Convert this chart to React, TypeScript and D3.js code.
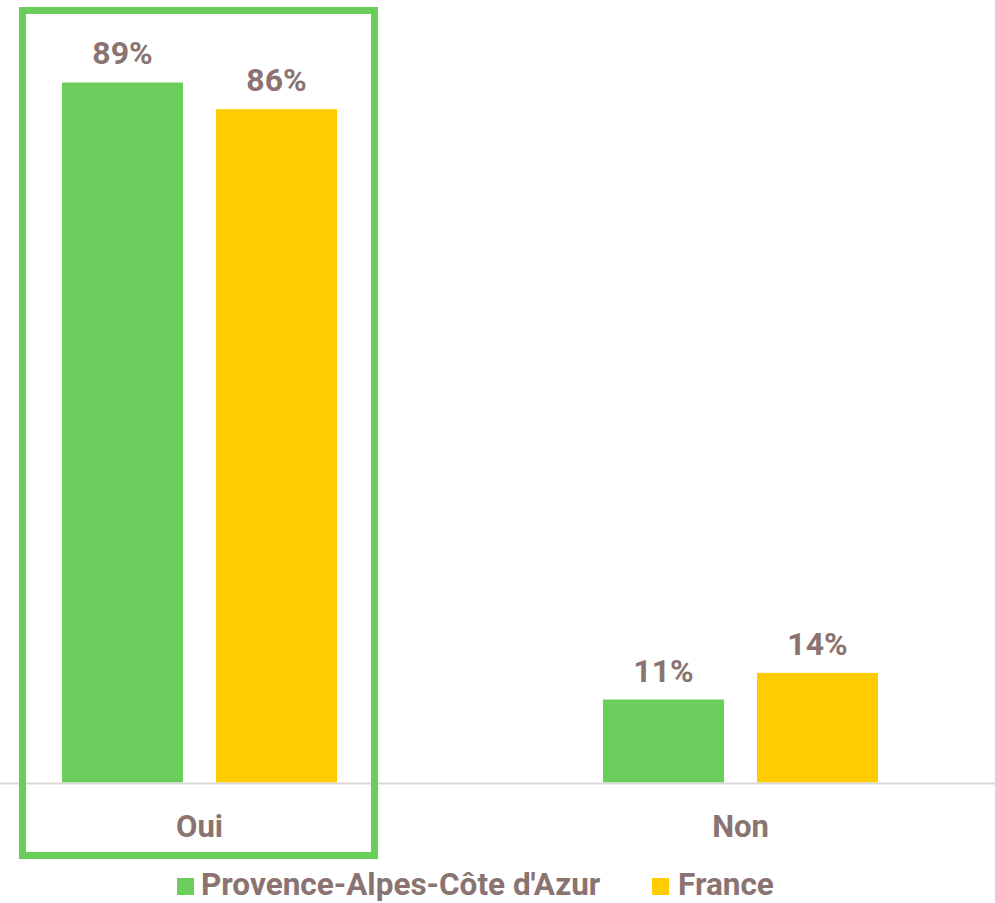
import React from "react";
import * as d3 from "d3";

const categories = ["Oui", "Non"];
const seriesNames = ["Provence-Alpes-Côte d'Azur", "France"];
const pacaValues = [0.894, 0.106];
const franceValues = [0.86, 0.14];
const colors = ["#6bcd5b", "#ffcc00"];

const W = 995;
const H = 903;
const baseY = 782.5;
const textColor = "#8a7370";
const font = "Roboto, 'Noto Sans', sans-serif";

export default function App() {
  const x0 = d3.scaleBand<string>().domain(categories).range([-71, 1011]);
  const x1 = d3
    .scaleBand<string>()
    .domain(seriesNames)
    .range([0, 275])
    .paddingInner(33 / 154);
  const y = d3.scaleLinear().domain([0, 1]).range([baseY, baseY - 783]);
  const series = [pacaValues, franceValues];

  return (
    <svg
      width={W}
      height={H}
      style={{ position: "absolute", left: 0, top: 0, background: "#fff" }}
    >
      {categories.map((c, ci) => {
        const cx = (x0(c) as number) + x0.bandwidth() / 2;
        const gx = cx - 137.5;
        return (
          <g key={c}>
            {seriesNames.map((s, si) => {
              const v = series[si][ci];
              const bx = gx + (x1(s) as number);
              return (
                <g key={s}>
                  <rect
                    x={bx}
                    y={y(v)}
                    width={x1.bandwidth()}
                    height={baseY - y(v)}
                    fill={colors[si]}
                  />
                  <text
                    x={bx + x1.bandwidth() / 2}
                    y={y(v) - 18}
                    textAnchor="middle"
                    fontFamily={font}
                    fontWeight={700}
                    fontSize={32}
                    fill={textColor}
                  >
                    {d3.format(".0%")(v)}
                  </text>
                </g>
              );
            })}
            <text
              x={cx}
              y={837}
              textAnchor="middle"
              fontFamily={font}
              fontWeight={700}
              fontSize={31}
              fill={textColor}
            >
              {c}
            </text>
          </g>
        );
      })}
      <line x1={0} x2={W} y1={baseY + 1} y2={baseY + 1} stroke="#dcd8d8" strokeWidth={2} />
      <rect
        x={22.5}
        y={10.5}
        width={352}
        height={845}
        fill="none"
        stroke="#6bcd5b"
        strokeWidth={7}
      />
      <g>
        <rect x={177} y={878} width={17} height={17} fill={colors[0]} />
        <text x={201} y={895} fontFamily={font} fontWeight={700} fontSize={31.5} fill={textColor}>
          {seriesNames[0]}
        </text>
        <rect x={652} y={878} width={17} height={17} fill={colors[1]} />
        <text x={678} y={895} fontFamily={font} fontWeight={700} fontSize={31.5} fill={textColor}>
          {seriesNames[1]}
        </text>
      </g>
    </svg>
  );
}
